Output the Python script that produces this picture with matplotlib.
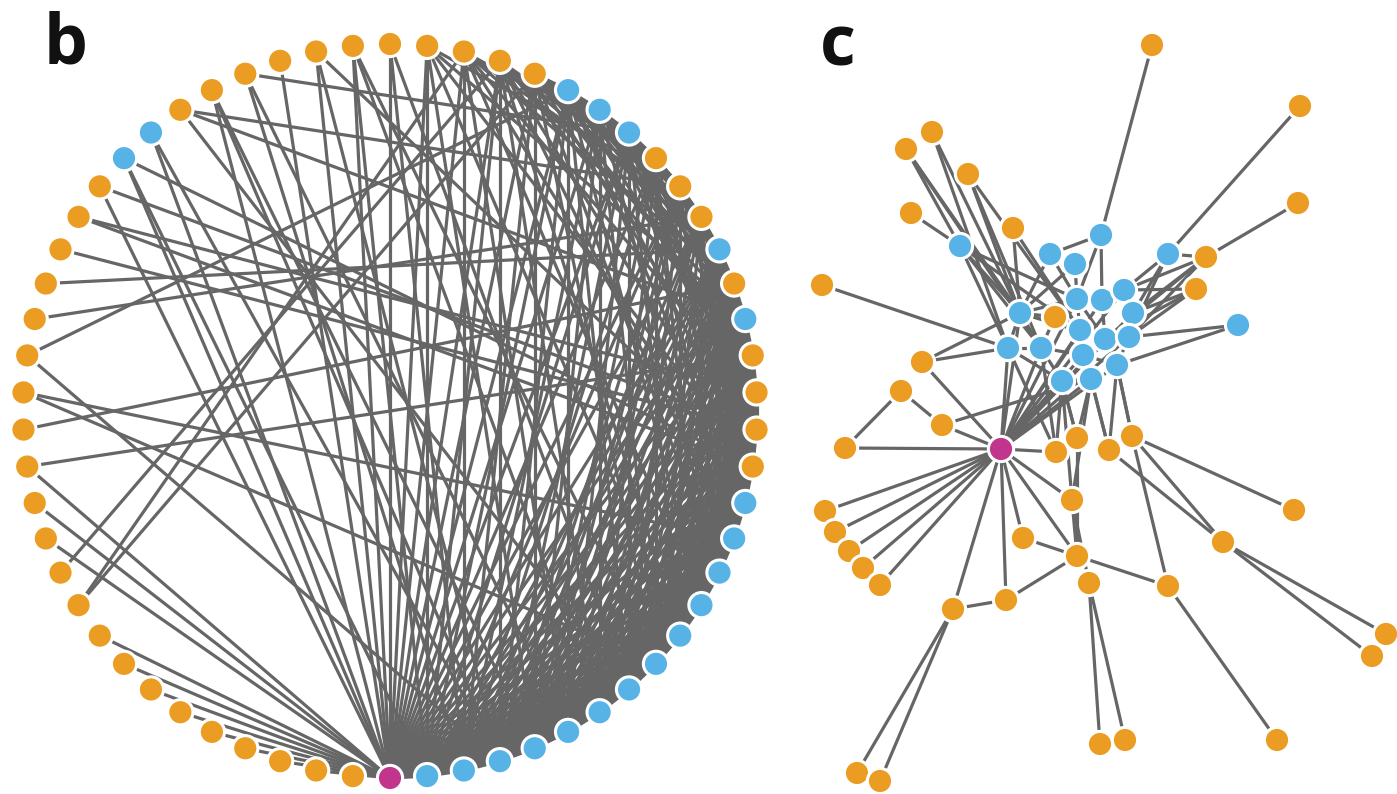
import numpy as np
import matplotlib
matplotlib.use("Agg")
import matplotlib.pyplot as plt
from matplotlib.collections import LineCollection

# ---------------------------------------------------------------- colours
ROLE_COLORS = {"o": "#EA9D22", "b": "#57B3E6", "m": "#C2358C"}
EDGE_COLOR = "#666666"

# ------------------------------------------------------- panel b (circle)
# node roles around the ring, starting at the bottom and running
# counter-clockwise (o = orange, b = blue, m = magenta hub)
ring_roles = list(
    "m"
    "bbbbbbbbbbbbb"
    "oooo" "b" "o" "b" "ooo" "bbb"
    "ooooooooooo"
    "bb"
    "oooooooooooooooooooooo"
)

# adjacency of the ring network (each link listed once, from lower index)
ring_links = {
    0: [1, 2, 3, 4, 5, 6, 7, 8, 9, 10, 11, 12, 13, 14, 15, 16, 17, 18, 19,
        20, 21, 22, 23, 24, 25, 26, 27, 28, 29, 30, 31, 32, 33, 34, 36, 38,
        39, 40, 48, 49, 50, 53, 54, 55, 56, 57, 58, 59, 60],
    1: [2, 3, 4, 5, 6, 7, 8, 9, 10, 11, 12, 13, 14, 15, 16, 17, 18, 19, 20,
        22, 24, 26, 28, 30, 32, 39],
    2: [3, 4, 5, 6, 7, 8, 9, 10, 11, 12, 13, 14, 15, 16, 17, 18, 19, 20, 21,
        23, 25, 27, 29, 31, 35],
    3: [4, 5, 6, 7, 8, 9, 10, 11, 12, 13, 14, 15, 16, 17, 18, 19, 20, 21, 22,
        24, 26, 28, 33, 36, 38, 45],
    4: [5, 6, 7, 8, 9, 10, 11, 12, 13, 14, 15, 16, 17, 18, 19, 20, 21, 22, 23,
        25, 27, 30, 36],
    5: [6, 7, 8, 9, 10, 11, 12, 13, 14, 15, 16, 17, 18, 19, 20, 22, 24, 26,
        29, 35],
    6: [7, 8, 9, 10, 11, 12, 13, 14, 15, 16, 17, 18, 19, 20, 21, 23, 25, 28,
        32],
    7: [8, 9, 10, 11, 12, 13, 14, 15, 16, 17, 18, 19, 20, 22, 24, 26, 31, 37],
    8: [9, 10, 11, 12, 13, 14, 15, 16, 17, 18, 19, 20, 21, 23, 25, 27, 32, 46],
    9: [10, 11, 12, 13, 14, 15, 16, 17, 18, 19, 20, 22, 24, 28, 30],
    10: [11, 12, 13, 14, 15, 16, 17, 18, 19, 20, 21, 23, 26, 29],
    11: [12, 13, 14, 15, 16, 17, 18, 19, 20, 22, 25, 27],
    12: [13, 14, 15, 16, 17, 18, 19, 20, 21, 24, 28, 46],
    13: [14, 15, 16, 17, 18, 19, 20, 23, 26, 29],
    14: [15, 16, 17, 18, 20, 22, 24, 26, 28, 30, 33, 39, 41],
    15: [16, 17, 18, 19, 20, 21, 24, 25, 27, 40, 42],
    16: [17, 18, 19, 20, 22, 25, 26, 29, 41],
    17: [18, 19, 20, 21, 23, 24, 27, 28, 48],
    18: [19, 20, 21, 22, 24, 25, 26, 28, 30, 37],
    19: [20, 21, 22, 23, 25, 26, 27, 29, 47],
    20: [21, 22, 23, 24, 26, 28, 43],
    21: [22, 23, 24, 25, 27, 29, 44],
    22: [23, 24, 25, 26, 28, 30, 37],
    23: [24, 25, 26, 27, 29],
    24: [25, 26, 27, 35],
    25: [26, 27],
    26: [27, 45],
    27: [52],
    28: [51],
    29: [52],
}

RING_CENTER = (390.0, 411.0)
RING_RADIUS = 367.0

# ------------------------------------------------------ panel c (network)
# layout coordinates of the force-directed network
c_orange_x = [1152, 1300, 1298, 932, 906, 968, 911, 1013, 1206, 1196,
              822, 1055, 922, 901, 942, 845, 1056, 1077, 1109, 1132,
              1072, 1294, 825, 835, 849, 863, 880, 1023, 1223, 1077,
              1089, 1168, 953, 1006, 1386, 1372, 1100, 1125, 1277, 857,
              880]
c_orange_y = [45, 106, 203, 132, 149, 174, 213, 228, 257, 289,
              285, 317, 362, 391, 425, 448, 452, 438, 450, 436,
              500, 510, 511, 532, 551, 568, 585, 538, 542, 556,
              583, 586, 609, 600, 634, 656, 744, 740, 740, 773,
              781]
c_blue_x = [1101, 960, 1050, 1075, 1168, 1238, 1020, 1077, 1102, 1124,
            1133, 1080, 1105, 1129, 1008, 1041, 1083, 1117, 1062, 1091]
c_blue_y = [235, 246, 254, 264, 254, 325, 313, 299, 300, 290,
            313, 330, 339, 337, 348, 348, 355, 365, 381, 379]
c_hub_xy = (1001, 449)

c_links = [
    "o0-b0", "o1-b4", "o2-o8", "o8-b4",
    "o3-b6", "o3-b14", "o4-b1", "o4-b6", "o4-b15", "o5-b6", "o5-b15",
    "o5-b11", "o6-b1", "o7-b6", "o7-b11",
    "b1-b6", "b1-b14", "b1-b15", "b1-b11", "b1-b7",
    "o10-b14", "o12-b6", "o12-b14", "o12-m", "o13-o14", "o13-o15",
    "o14-m", "o14-b19", "o15-m",
    "m-o22", "m-o23", "m-o24", "m-o25", "m-o26",
    "m-o32", "m-o33", "m-o27", "m-o29", "m-o20", "m-o16",
    "m-b14", "m-b15", "m-b18", "m-b19", "m-b16", "m-b11", "m-b6",
    "m-b12", "m-b17", "m-b7", "m-b8", "m-b13", "m-b10", "m-b9",
    "o20-o29", "o20-o30", "o20-b18", "o20-b19", "o17-o29",
    "o17-b18", "o18-b19", "o19-b17", "o16-b18",
    "o19-o21", "o19-o28", "o19-o31", "o18-o28",
    "o28-o34", "o28-o35", "o29-o31", "o33-o29", "o32-o33", "o27-o29",
    "o32-o39", "o32-o40", "o30-o36", "o30-o37", "o31-o38",
    "b5-b13", "b5-b17",
    "o9-b9", "o9-b10", "o9-b13", "o9-b12", "o8-b9", "o8-b10", "o8-b13",
    "o8-b12", "b4-b10", "b4-b9", "b4-b13",
    "b0-b2", "b0-b8", "b0-b7", "b2-b6", "b3-b6", "b3-b7", "b2-b7",
    "b6-b7", "b6-b11", "b6-b14", "b6-b15", "b7-b8", "b8-b9", "b9-b10",
    "b7-b11", "b8-b12", "b10-b13", "b11-b12", "b12-b13", "b11-b16",
    "b12-b17", "b14-b15", "b15-b18", "b16-b19", "b18-b19", "b16-b17",
    "b13-b17", "b15-b16", "b14-b18", "b6-b12", "b7-b12",
    "o11-b6", "o11-b15",
    "b18-o17", "b19-o18", "b19-o17", "b14-o16", "b15-o16", "b17-o19",
    "b17-o18",
]

# ------------------------------------------------------------- drawing
NODE_SIZE = 330
NODE_EDGE = 2.2
LINK_WIDTH = 2.3

fig = plt.figure(figsize=(13.97, 7.94), dpi=100)
ax = fig.add_axes([0, 0, 1, 1])
ax.set_xlim(0, 1397)
ax.set_ylim(794, 0)
ax.axis("off")


def draw_nodes(xs, ys, roles):
    cols = [ROLE_COLORS[r] for r in roles]
    ax.scatter(xs, ys, s=NODE_SIZE, c=cols, edgecolors="white",
               linewidths=NODE_EDGE, zorder=3)


def draw_links(xs, ys, pairs):
    segs = [[(xs[a], ys[a]), (xs[b], ys[b])] for a, b in pairs]
    ax.add_collection(LineCollection(segs, colors=EDGE_COLOR,
                                     linewidths=LINK_WIDTH, zorder=2,
                                     capstyle="butt"))


# panel b: ring layout
n_ring = len(ring_roles)
theta = np.deg2rad(-90.0 + 360.0 * np.arange(n_ring) / n_ring)
ring_x = RING_CENTER[0] + RING_RADIUS * np.cos(theta)
ring_y = RING_CENTER[1] - RING_RADIUS * np.sin(theta)
ring_pairs = [(a, b) for a, nbrs in ring_links.items() for b in nbrs]
draw_links(ring_x, ring_y, ring_pairs)
draw_nodes(ring_x, ring_y, ring_roles)

# panel c: force-directed layout
net_x = list(c_orange_x) + list(c_blue_x) + [c_hub_xy[0]]
net_y = list(c_orange_y) + list(c_blue_y) + [c_hub_xy[1]]
net_roles = ["o"] * len(c_orange_x) + ["b"] * len(c_blue_x) + ["m"]
n_orange, n_blue = len(c_orange_x), len(c_blue_x)


def node_index(tag):
    if tag == "m":
        return n_orange + n_blue
    kind, num = tag[0], int(tag[1:])
    return num if kind == "o" else n_orange + num


net_pairs = [tuple(node_index(t) for t in link.split("-")) for link in c_links]
draw_links(net_x, net_y, net_pairs)
draw_nodes(net_x, net_y, net_roles)

# panel letters
for label, x, y in [("b", 44, 64), ("c", 820, 66)]:
    ax.text(x, y, label, fontsize=50, fontweight="bold", family="Open Sans",
            color="#111111", va="baseline", ha="left")

fig.savefig("out.png", dpi=100, facecolor="white")
